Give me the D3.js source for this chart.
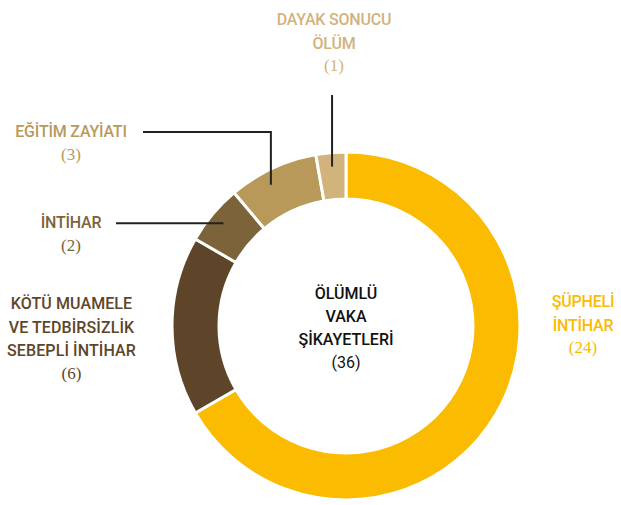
<!DOCTYPE html>
<html><head><meta charset="utf-8">
<script src="https://cdn.jsdelivr.net/npm/d3@7"></script>
<style>body{margin:0;background:#fff}</style>
</head><body>
<svg id="c" width="621" height="505"></svg>
<script>
const categories = ["ŞÜPHELİ İNTİHAR", "KÖTÜ MUAMELE VE TEDBİRSİZLİK SEBEPLİ İNTİHAR", "İNTİHAR", "EĞİTİM ZAYİATI", "DAYAK SONUCU ÖLÜM"];
const values = [24, 6, 2, 3, 1];
const colors = ["#FABB00", "#5E452A", "#7C633A", "#B9995A", "#D2B37C"];
const labelLines = [["ŞÜPHELİ","İNTİHAR"],["KÖTÜ MUAMELE","VE TEDBİRSİZLİK","SEBEPLİ İNTİHAR"],["İNTİHAR"],["EĞİTİM ZAYİATI"],["DAYAK SONUCU","ÖLÜM"]];
const centerLines = ["ÖLÜMLÜ","VAKA","ŞİKAYETLERİ"];
const total = d3.sum(values);

const svg = d3.select("#c");
const cx = 346, cy = 326, R = 174, r = 127;
const g = svg.append("g").attr("transform", `translate(${cx},${cy})`);
const pie = d3.pie().sort(null).value(d => d)(values);
const arc = d3.arc().innerRadius(r).outerRadius(R);
g.selectAll("path").data(pie).enter().append("path")
  .attr("d", arc).attr("fill", (d,i) => colors[i])
  .attr("stroke", "#fff").attr("stroke-width", 3);

// label anchors (centre x, first baseline y)
const labelPos = [[583, 307], [71.5, 309], [71, 228], [71, 137], [334, 25]];
const lh = 23.5;
labelLines.forEach((lines, i) => {
  const [x, y] = labelPos[i];
  const t = svg.append("text").attr("text-anchor", "middle")
    .attr("fill", colors[i]).style("font-family", "Roboto").style("font-weight", 500)
    .style("font-size", "16px").style("letter-spacing", i === 1 ? "0.1px" : "-0.2px");
  lines.forEach((l, k) => t.append("tspan").attr("x", x).attr("y", y + k * lh).text(l));
  t.append("tspan").attr("x", x).attr("y", y + lines.length * lh - 1)
    .style("font-family", "Liberation Serif").style("font-weight", 400).style("font-size", "17px")
    .style("letter-spacing", "0px")
    .text(`(${values[i]})`);
});

// leader lines drawn from arc positions
function polar(angle, rad) { return [cx + rad * Math.sin(angle), cy - rad * Math.cos(angle)]; }
const at = (d, f) => d.startAngle + (d.endAngle - d.startAngle) * f;
const line = d3.line();
const lc = "#222";
const rr = 160;
// dayak sonucu
{ const p = polar(at(pie[4], 0.5), rr);
  svg.append("path").attr("d", line([[p[0], 95], p])).attr("stroke", lc).attr("stroke-width", 2).attr("fill", "none"); }
// egitim
{ const p = polar(at(pie[3], 0.4), rr);
  svg.append("path").attr("d", line([[143, 132], [p[0], 132], p])).attr("stroke", lc).attr("stroke-width", 2).attr("fill", "none"); }
// intihar
{ const p = polar(at(pie[2], 0.5), rr);
  svg.append("path").attr("d", line([[116, p[1]], p])).attr("stroke", lc).attr("stroke-width", 2).attr("fill", "none"); }

const ct = svg.append("text").attr("text-anchor", "middle").attr("fill", "#111")
  .style("font-family", "Roboto").style("font-weight", 500).style("font-size", "16px");
centerLines.forEach((l, k) => ct.append("tspan").attr("x", cx).attr("y", 299 + k * 23).text(l));
ct.append("tspan").attr("x", cx).attr("y", 299 + 3 * 23).style("font-weight", 400).text(`(${total})`);
</script>
</body></html>
